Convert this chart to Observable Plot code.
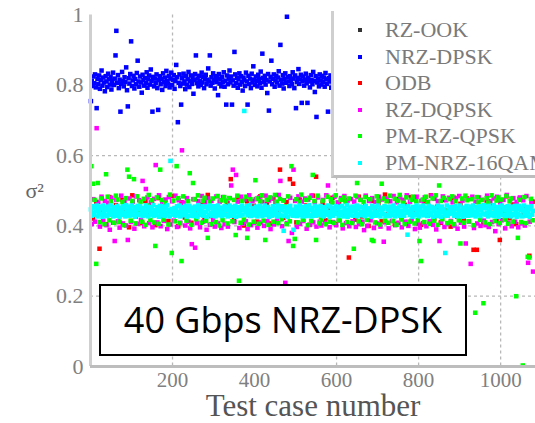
<!DOCTYPE html>
<html><head><meta charset="utf-8">
<script src="https://cdn.jsdelivr.net/npm/d3@7"></script>
<script src="https://cdn.jsdelivr.net/npm/@observablehq/plot@0.6"></script>
<style>
body{margin:0;background:#fff;}
#wrap{position:relative;width:535px;height:423px;overflow:hidden;font-family:"Liberation Serif",serif;}
#legend{position:absolute;left:331px;top:11px;width:210px;height:164px;background:#fff;border-left:3px solid #cfcfcf;border-bottom:3px solid #bdbdbd;}
.row{position:absolute;left:0;height:26px;display:flex;align-items:center;white-space:nowrap;font-size:22px;color:#7a7a7a;}
.mk{width:4px;height:4px;margin-left:24px;margin-right:23px;flex:none;}
#note{position:absolute;left:99px;top:284px;width:364px;height:68px;border:2px solid #000;background:#fff;display:flex;align-items:center;justify-content:center;font-family:"Open Sans",sans-serif;font-size:36px;line-height:1;color:#000;}
</style></head>
<body>
<div id="wrap"></div>
<script>
// ---- data (values in thousandths) ----
const seriesNames = ["RZ-OOK", "NRZ-DPSK", "ODB", "RZ-DQPSK", "PM-RZ-QPSK", "PM-NRZ-16QAM"];
const seriesColors = ["#333333", "#0000ff", "#ff0000", "#ff00ff", "#00ff00", "#00ffff"];
const xTickValues = [200, 400, 600, 800, 1000];
const xTickLabels = ["200", "400", "600", "800", "1000"];
const xTickMarks = [200, 600, 800, 1000];
const yTickValues = [0, 0.2, 0.4, 0.6, 0.8, 1];
const yTickLabels = ["0", "0.2", "0.4", "0.6", "0.8", "1"];
const noteText = "40 Gbps NRZ-DPSK";

// NRZ-DPSK: test cases 1,3,5,...
const nrzDpsk = [
755,812,798,825,806,831,794,735,818,803,828,790,815,842,799,822,808,783,826,811,
795,833,817,802,824,788,813,836,801,819,885,955,807,829,792,816,725,804,838,812,
797,823,809,851,786,740,820,805,832,925,798,814,827,791,818,803,835,870,811,796,
825,808,779,830,815,799,821,806,837,793,817,828,802,845,812,725,824,797,819,807,
831,792,730,815,826,803,818,787,834,809,822,798,841,813,805,827,794,819,836,801,
816,829,790,812,858,823,695,807,831,798,745,820,805,833,811,789,826,802,817,838,
795,812,828,804,821,776,815,832,885,806,819,797,827,813,801,836,808,824,792,818,
830,803,816,848,811,885,799,823,807,834,815,791,826,809,820,772,832,805,818,797,
824,810,837,796,813,745,828,803,819,842,808,825,745,814,799,895,831,806,821,793,
817,834,802,826,809,785,822,815,798,836,811,745,827,804,819,792,833,808,854,816,
801,825,812,797,830,818,806,839,793,890,821,809,827,802,815,778,832,728,811,824,
870,803,818,831,796,814,827,808,822,840,799,915,816,805,829,791,818,834,807,995,
823,811,798,826,815,803,837,819,792,828,735,809,821,846,804,817,830,750,812,825,
799,816,833,806,750,821,811,794,829,815,803,838,812,781,826,710,808,819,797,831,
814,802,827,809,822,796,835,817,804,725,820,811,828,793,816,805,832,810,823,799];

// ODB: test cases 6,14,22,...
const odb = [
421,468,335,447,405,482,432,459,411,474,440,396,487,426,453,408,471,437,462,402,
479,430,455,414,485,443,399,467,424,450,409,476,435,461,417,488,428,452,404,473,
438,465,533,419,481,446,401,470,429,457,412,484,436,463,407,478,442,560,423,468,
533,520,410,475,439,458,403,486,540,431,466,416,449,480,405,462,434,473,310,445,
418,483,427,456,400,471,441,464,413,489,433,452,406,476,425,460,411,482,437,448,
403,469,430,487,420,455,409,474,444,398,480,426,463,415,478,434,332,332,451,408,
472,438,457,414,360,446,484,422,461,405,477,431,453,315,469];

// RZ-DQPSK: test cases 3,7,11,...
const rzDqpsk = [
405,476,412,678,468,398,483,415,471,402,466,389,480,409,357,474,413,395,486,407,
470,401,360,478,411,469,392,484,406,473,417,528,399,505,481,408,467,396,477,573,
410,487,399,468,414,475,391,482,404,470,415,486,397,473,409,615,466,401,479,412,
393,348,476,338,408,470,396,485,412,467,389,478,403,471,416,398,484,407,469,394,
482,405,472,398,479,515,560,411,545,469,394,483,406,475,413,391,487,402,471,409,
476,395,481,410,468,400,486,413,472,391,479,404,467,415,488,528,399,473,238,408,
357,480,380,560,471,397,484,406,469,414,478,392,475,403,486,410,468,398,481,412,
401,474,409,487,515,396,470,411,483,402,467,415,479,393,485,408,472,399,476,413,
469,397,482,405,474,412,388,486,400,471,416,479,394,468,407,483,398,475,355,410,
478,393,470,414,485,402,467,409,481,396,474,412,487,400,469,415,477,391,483,406,
395,472,408,481,399,468,413,486,403,477,390,470,357,411,484,397,473,405,480,414,
467,401,479,392,485,409,472,398,350,476,412,292,483,394,469,407,481,400,474,415,
402,486,397,470,411,478,385,483,405,467,416,474,393,488,409,471,399,479,412,468,
396,481,407,473,401,485,295,412,469,270];

// PM-RZ-QPSK: test cases 2,6,10,...
const pmRzQpsk = [
570,520,474,292,522,411,478,452,405,547,483,416,470,438,409,486,475,412,448,468,
402,479,560,540,415,471,533,407,484,440,469,412,477,403,458,488,417,473,410,343,
481,406,560,474,418,466,436,404,489,323,472,413,570,479,408,300,484,447,415,470,
550,403,522,476,419,487,441,409,471,480,414,366,468,405,478,453,411,485,401,473,
416,482,470,407,479,452,413,474,374,486,244,409,471,418,483,366,404,476,442,412,
530,478,406,470,487,415,360,474,403,481,447,412,488,469,408,477,419,472,455,405,
484,413,570,343,363,476,410,468,489,417,440,474,402,480,414,545,471,360,486,407,
418,472,450,405,483,412,476,466,409,487,438,416,474,403,481,469,411,478,445,408,
335,486,522,413,474,405,468,482,417,447,476,360,357,410,484,471,404,520,478,415,
470,409,486,452,414,477,403,472,488,418,466,405,481,439,412,474,483,407,470,416,
357,300,475,411,483,468,406,452,478,415,487,403,515,471,419,480,443,408,476,412,
484,405,470,448,416,350,478,409,486,473,413,441,476,402,153,482,467,417,474,180,
410,479,466,405,487,451,414,472,481,408,475,443,418,485,406,470,478,412,448,200,
366,474,411,3,482,408,312,310,477,416];

// PM-NRZ-16QAM: test cases 1,3,5,...
const pmNrz16qam = [
447,429,456,437,431,452,441,458,427,445,436,455,433,449,426,458,440,430,451,444,
428,455,437,446,458,432,443,427,453,439,449,429,457,435,445,426,452,441,431,456,
438,450,427,459,444,433,455,429,447,437,458,430,442,453,426,446,435,457,431,449,
456,434,445,428,451,440,430,458,437,447,427,454,443,432,449,436,459,429,445,439,
431,453,442,426,457,436,448,430,455,441,428,450,438,459,433,446,427,585,440,448,
432,437,451,429,445,456,433,440,458,427,448,436,453,430,444,457,435,426,450,442,
457,429,446,435,452,428,441,455,433,447,426,459,438,450,431,444,456,429,437,453,
440,426,455,447,432,458,437,429,451,443,456,434,427,449,440,458,430,446,436,452,
428,449,437,456,431,445,452,427,440,458,435,447,429,454,442,433,457,426,448,439,
453,436,429,447,458,432,444,727,451,439,456,430,446,435,459,428,442,450,433,445,
430,455,441,427,449,437,457,433,446,428,452,440,458,431,444,436,454,426,448,439,
447,429,456,438,432,451,443,427,458,435,449,430,445,456,428,386,441,453,434,446,
426,452,439,457,433,446,429,389,444,436,455,428,450,441,431,458,437,447,427,453,
442,433,456,428,448,438,459,430,445,427,451,440,434,457,429,447,436,453,431,444,
457,430,441,449,427,453,436,446,458,432,440,426,455,437,448,429,451,443,434,456,
435,448,428,454,441,431,457,439,427,450,444,433,459,426,446,437,452,430,443,455,
429,451,444,436,458,427,447,433,455,440,430,453,438,449,428,457,435,446,432,450,
446,437,426,457,433,450,441,429,454,436,458,431,445,427,452,439,448,434,456,428,
453,431,447,440,428,455,436,449,430,458,442,427,451,437,446,433,457,429,444,438,
434,457,429,445,452,438,375,456,443,431,449,440,426,454,435,447,430,458,439,450,
427,446,455,433,441,458,430,448,437,452,428,444,457,436,449,431,454,426,442,447,
451,436,428,457,443,432,449,426,455,440,447,430,323,438,458,429,446,434,453,441,
437,453,442,429,456,434,447,427,451,439,458,431,444,426,452,436,448,430,457,440,
429,448,436,455,430,446,458,433,441,427,453,438,449,432,456,428,444,451,435,459,
455,432,450,438,427,457,441,446,430,452,436,459,428,447,442,433,454,426,449,437,
440,458,431,447,453,428,444,436,456,429,450,439,427,455,434,448,431,457,443,426,
448,435,457,430,445,452,427,441,458,433,446,429,454,438,450,426,447,456,432,443];

// ---- build ----
function toRows(values, first, step) {
  return values.map((v, i) => ({t: first + step * i, v: v / 1000}));
}
const layers = [
  {rows: toRows(nrzDpsk, 1, 2), color: seriesColors[1]},
  {rows: toRows(odb, 6, 8), color: seriesColors[2]},
  {rows: toRows(rzDqpsk, 3, 4), color: seriesColors[3]},
  {rows: toRows(pmRzQpsk, 2, 4), color: seriesColors[4]},
  {rows: toRows(pmNrz16qam, 1, 2), color: seriesColors[5]}
];

const grid = {stroke: "#b8b8b8", strokeOpacity: 1, strokeDasharray: "3,3", strokeWidth: 1.3};
const chart = Plot.plot({
  width: 535, height: 423,
  marginLeft: 90, marginRight: 0, marginTop: 14.5, marginBottom: 57,
  x: {domain: [0, 1085], label: null},
  y: {domain: [0, 1], label: null},
  style: {background: "#fff", fontFamily: "Liberation Serif", fontSize: "22px"},
  marks: [
    Plot.gridX(xTickMarks, grid),
    Plot.gridY([0.2, 0.4, 0.6, 0.8], grid),
    ...layers.map(L => Plot.dot(L.rows, {x: "t", y: "v", symbol: "square", r: 2.55, fill: L.color, stroke: "none"})),
    Plot.ruleX([0], {stroke: "#cfcfcf", strokeWidth: 3}),
    Plot.ruleY([0], {stroke: "#bdbdbd", strokeWidth: 3}),
    Plot.axisX(xTickValues, {tickSize: 0, tickPadding: 6, fontSize: 21, fill: "#808080", label: null,
      tickFormat: (d, i) => xTickLabels[i]}),
    Plot.axisY(yTickValues, {tickSize: 0, tickPadding: 7, fontSize: 22, fill: "#808080", label: null,
      tickFormat: (d, i) => yTickLabels[i]}),
    Plot.text(["Test case number"], {frameAnchor: "bottom", dy: 49, fontSize: 31, fill: "#555", text: d => d}),
    Plot.text(["σ²"], {frameAnchor: "left", dx: -65, fontSize: 22, fill: "#666", text: d => d})
  ]
});

const wrap = document.getElementById("wrap");
wrap.appendChild(chart);

const legend = document.createElement("div");
legend.id = "legend";
seriesNames.forEach((name, i) => {
  const row = document.createElement("div");
  row.className = "row";
  row.style.top = (6 + i * 26.6) + "px";
  const mk = document.createElement("span");
  mk.className = "mk";
  mk.style.background = seriesColors[i];
  const tx = document.createElement("span");
  tx.textContent = name;
  row.appendChild(mk); row.appendChild(tx);
  legend.appendChild(row);
});
wrap.appendChild(legend);

const note = document.createElement("div");
note.id = "note";
note.textContent = noteText;
wrap.appendChild(note);
</script>
</body></html>
